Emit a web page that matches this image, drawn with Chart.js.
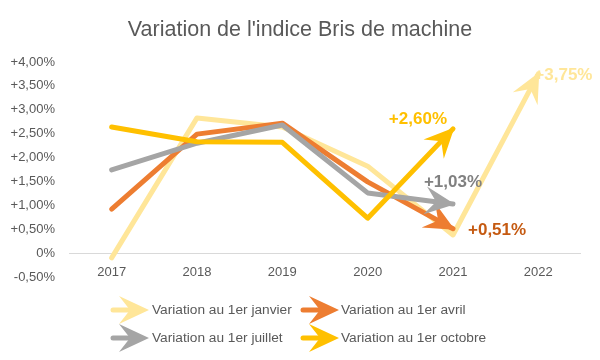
<!DOCTYPE html>
<html><head><meta charset="utf-8">
<script src="https://cdn.jsdelivr.net/npm/chart.js@4/dist/chart.umd.min.js"></script>
<style>html,body{margin:0;padding:0;background:#fff}</style>
</head><body>
<canvas id="c" width="600" height="360"></canvas>
<script>
// ---- data ----
const categories = ['2017', '2018', '2019', '2020', '2021', '2022'];
const seriesNames = ['Variation au 1er janvier', 'Variation au 1er avril', 'Variation au 1er juillet', 'Variation au 1er octobre'];
const janvier = [-0.10, 2.83, 2.64, 1.82, 0.38, 3.75];
const avril   = [0.92, 2.49, 2.72, 1.49, 0.51, null];
const juillet = [1.74, 2.30, 2.68, 1.26, 1.03, null];
const octobre = [2.64, 2.33, 2.32, 0.73, 2.60, null];
const yMin = -0.5, yMax = 4.0, yStep = 0.5;

// ---- style ----
const FONT = "'Liberation Sans', Arial, sans-serif";
const TEXT = '#595959';
const colors = ['#FFE699', '#ED7D31', '#A5A5A5', '#FFC000'];
const labelColors = ['#FFE699', '#C55A11', '#808080', '#FFC000'];
// end label placement relative to arrow tip: [dx, dy, align]
const labelPlace = [[-4, 1, 'left'], [15, 2, 'left'], [0, -22, 'center'], [-6, -10, 'right']];

function fmt(v) {
  if (Math.abs(v) < 1e-9) return '0%';
  return (v > 0 ? '+' : '-') + Math.abs(v).toFixed(2).replace('.', ',') + '%';
}

function arrowHead(ctx, x0, y0, x1, y1, color) {
  const a = Math.atan2(y1 - y0, x1 - x0);
  const L = 28, W = 14, N = 17;
  ctx.save();
  ctx.translate(x1, y1);
  ctx.rotate(a);
  ctx.beginPath();
  ctx.moveTo(2, 0);
  ctx.lineTo(-L, -W);
  ctx.lineTo(-N, 0);
  ctx.lineTo(-L, W);
  ctx.closePath();
  ctx.fillStyle = color;
  ctx.fill();
  ctx.restore();
}

function lastPts(meta) {
  const pts = meta.data.filter((p, i) => meta._dataset.data[i] !== null && !p.skip);
  return [pts[pts.length - 2], pts[pts.length - 1]];
}

const arrowPlugin = {
  id: 'arrows',
  afterDatasetDraw(chart, args) {
    const meta = args.meta;
    const [p0, p1] = lastPts(meta);
    arrowHead(chart.ctx, p0.x, p0.y, p1.x, p1.y, colors[args.index]);
  },
  afterDatasetsDraw(chart) {
    const ctx = chart.ctx;
    ctx.save();
    ctx.font = 'bold 17px ' + FONT;
    ctx.textBaseline = 'middle';
    chart.data.datasets.forEach((ds, i) => {
      const meta = chart.getDatasetMeta(i);
      const [, p1] = lastPts(meta);
      const vals = ds.data.filter(v => v !== null);
      const v = vals[vals.length - 1];
      const [dx, dy, al] = labelPlace[i];
      ctx.fillStyle = labelColors[i];
      ctx.textAlign = al;
      ctx.fillText(fmt(v), p1.x + dx, p1.y + dy);
    });
    ctx.restore();
  },
  afterDraw(chart) {
    const ctx = chart.ctx;
    const iconX = [113, 303], textX = [152, 341], rowY = [310, 338];
    ctx.save();
    ctx.font = '13.7px ' + FONT;
    ctx.textBaseline = 'middle';
    ctx.textAlign = 'left';
    seriesNames.forEach((name, i) => {
      const c = i % 2, r = Math.floor(i / 2);
      const x = iconX[c], y = rowY[r];
      ctx.strokeStyle = colors[i];
      ctx.lineWidth = 5;
      ctx.lineCap = 'round';
      ctx.beginPath();
      ctx.moveTo(x, y);
      ctx.lineTo(x + 18, y);
      ctx.stroke();
      arrowHead(ctx, x, y, x + 34, y, colors[i]);
      ctx.fillStyle = TEXT;
      ctx.fillText(name, textX[c], y);
    });
    ctx.restore();
  }
};

const seriesData = [janvier, avril, juillet, octobre];
new Chart(document.getElementById('c'), {
  type: 'line',
  data: {
    labels: categories,
    datasets: seriesData.map((d, i) => ({
      label: seriesNames[i],
      data: d,
      borderColor: colors[i],
      backgroundColor: colors[i],
      borderWidth: 5,
      borderCapStyle: 'round',
      borderJoinStyle: 'round',
      pointRadius: 0,
      pointHoverRadius: 0,
      tension: 0,
      fill: false,
      spanGaps: false,
      order: 4 - i
    }))
  },
  options: {
    responsive: false,
    devicePixelRatio: 1,
    animation: false,
    layout: { padding: { left: 0, right: 0, top: 0, bottom: 82 } },
    plugins: {
      legend: { display: false },
      tooltip: { enabled: false },
      title: {
        display: true,
        text: "Variation de l'indice Bris de machine",
        color: TEXT,
        font: { family: FONT, size: 21.5, weight: 'normal', lineHeight: 1.2 },
        padding: { top: 17, bottom: 19.2 }
      }
    },
    scales: {
      x: {
        offset: true,
        grid: { display: false, drawTicks: false },
        border: { display: false },
        ticks: { color: TEXT, font: { family: FONT, size: 13 }, padding: -3.3, mirror: true, maxRotation: 0, autoSkip: false },
        afterFit(s) { s.height = 1; }
      },
      y: {
        min: yMin, max: yMax,
        grid: {
          drawTicks: false,
          lineWidth: 1,
          color: c => (Math.abs(c.tick.value) < 1e-9 ? '#D9D9D9' : 'rgba(0,0,0,0)')
        },
        border: { display: false },
        ticks: { stepSize: yStep, color: TEXT, font: { family: FONT, size: 13 }, padding: 14, callback: v => fmt(v) },
        afterFit(s) { s.width = 69; }
      },
      yRight: {
        display: true,
        position: 'right',
        min: yMin, max: yMax,
        grid: { display: false, drawTicks: false },
        border: { display: false },
        ticks: { display: false },
        afterFit(s) { s.width = 19; }
      }
    }
  },
  plugins: [arrowPlugin]
});
</script>
</body></html>
